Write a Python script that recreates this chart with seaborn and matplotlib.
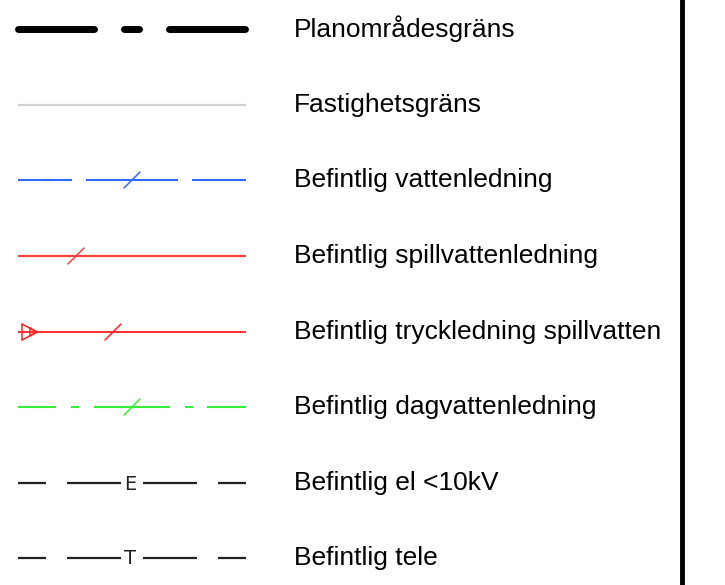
import numpy as np
import pandas as pd
import matplotlib
matplotlib.use("Agg")
import matplotlib.pyplot as plt
import seaborn as sns

# Legend entries
labels = [
    "Planområdesgräns",
    "Fastighetsgräns",
    "Befintlig vattenledning",
    "Befintlig spillvattenledning",
    "Befintlig tryckledning spillvatten",
    "Befintlig dagvattenledning",
    "Befintlig el <10kV",
    "Befintlig tele",
]
colors = ["#000000", "#d3d3d3", "#2f6bff", "#ff4040", "#ff2020", "#33ee33", "#222222", "#222222"]
letters = [None, None, None, None, None, None, "E", "T"]

# --- layout / styling ---
row_y = [29, 105, 180, 256, 332, 407, 483, 558]
widths = [5.0, 1.6, 1.5, 1.6, 1.3, 1.5, 1.6, 1.6]
segments = [
    [(18.5, 94), (124.5, 139), (169.5, 245)],
    [(18, 246)],
    [(18, 72), (86, 178), (192, 246)],
    [(18, 246)],
    [(18, 246)],
    [(18, 56), (71, 79), (94, 170), (185, 193), (207, 246)],
    [(18, 46), (67, 121), (143, 197), (218, 246)],
    [(18, 46), (67, 121), (143, 197), (218, 246)],
]
slash_x = [None, None, 132, 76, 113, 132, None, None]

sns.set_style("white")
plt.rcParams["font.family"] = ["Liberation Sans", "DejaVu Sans"]

fig = plt.figure(figsize=(7.25, 5.85), dpi=100)
ax = fig.add_axes([0, 0, 1, 1])
ax.set_xlim(0, 725)
ax.set_ylim(585, 0)
ax.axis("off")

rows = []
for i, segs in enumerate(segments):
    for j, (a, b) in enumerate(segs):
        rows.append({"x": a, "y": row_y[i], "row": i, "seg": f"{i}-{j}"})
        rows.append({"x": b, "y": row_y[i], "row": i, "seg": f"{i}-{j}"})
df = pd.DataFrame(rows)

for i in range(len(labels)):
    sub = df[df["row"] == i]
    sns.lineplot(data=sub, x="x", y="y", units="seg", estimator=None, sort=False,
                 color=colors[i], lw=widths[i], solid_capstyle="round" if i == 0 else "butt",
                 ax=ax, legend=False)
    if slash_x[i] is not None:
        cx, cy = slash_x[i], row_y[i]
        ax.plot([cx - 8, cx + 8], [cy + 8, cy - 8], color=colors[i], lw=1.1)
    if letters[i] is not None:
        ax.text(130, row_y[i] + 1, letters[i], color=colors[i], fontsize=14,
                family="DejaVu Sans", ha="center", va="center")
    ax.text(294, row_y[i], labels[i], fontsize=19, ha="left", va="center", color="black")

# pressure-pipe triangle symbol
cy = row_y[4]
ax.plot([22, 22], [cy - 8, cy + 8], color=colors[4], lw=1.1)
ax.plot([22, 37, 22], [cy - 8, cy, cy + 8], color=colors[4], lw=1.1)
ax.plot([30, 30, 37, 30], [cy - 4, cy + 4, cy, cy - 4], color=colors[4], lw=1.1)

# right-hand border
ax.axvline(682, color="black", lw=3.5)

fig.savefig("out.png", dpi=100)
